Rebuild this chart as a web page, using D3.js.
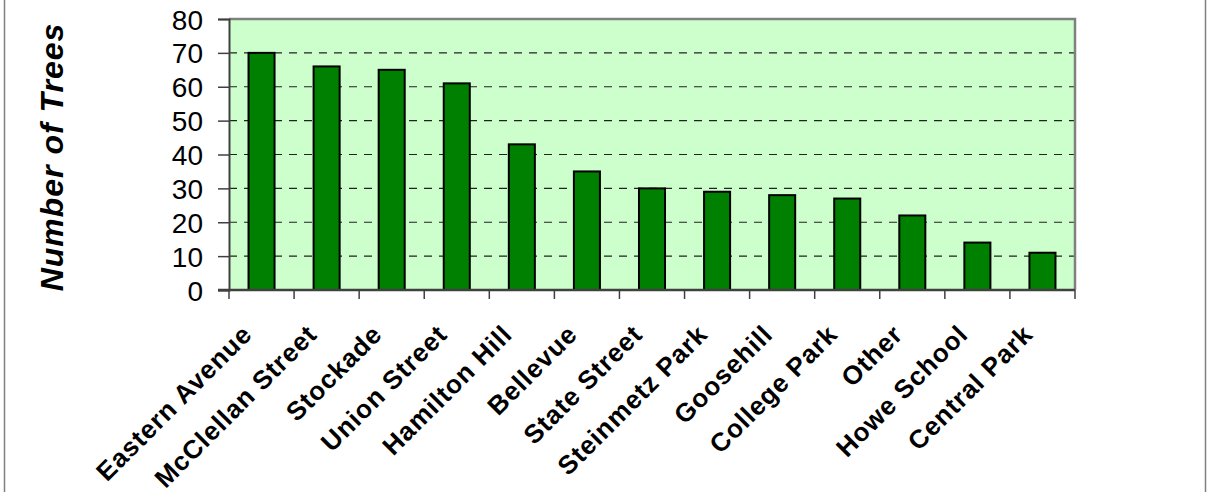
<!DOCTYPE html>
<html>
<head>
<meta charset="utf-8">
<script src="https://cdn.jsdelivr.net/npm/d3@7"></script>
<style>
html,body{margin:0;padding:0;background:#fff;}
svg{display:block;}
</style>
</head>
<body>
<svg id="chart" width="1207" height="492"></svg>
<script>
const categories = ["Eastern Avenue","McClellan Street","Stockade","Union Street","Hamilton Hill","Bellevue","State Street","Steinmetz Park","Goosehill","College Park","Other","Howe School","Central Park"];
const values = [70,66,65,61,43,35,30,29,28,27,22,14,11];
const yTicks = [0,10,20,30,40,50,60,70,80];
const yTitle = "Number of Trees";

const svg = d3.select("#chart");
const W = 1207, H = 492;
const m = {left:229, right:1075, top:19, bottom:290};
const FONT = "Arial, 'Liberation Sans', sans-serif";

// outer frame
svg.append("rect").attr("x",4.5).attr("y",-5).attr("width",1201).attr("height",H+10)
  .attr("fill","none").attr("stroke","#808080").attr("stroke-width",1.5);

const x = d3.scaleBand().domain(categories).range([m.left,m.right]).paddingInner(0).paddingOuter(0);
const y = d3.scaleLinear().domain([0,80]).range([m.bottom,m.top]);

// plot background
svg.append("rect").attr("x",m.left).attr("y",m.top).attr("width",m.right-m.left).attr("height",m.bottom-m.top)
  .attr("fill","#CCFFCC");

// grid lines
svg.append("g").selectAll("line").data(yTicks.filter(d=>d>0 && d<80)).join("line")
  .attr("x1",m.left).attr("x2",m.right).attr("y1",d=>y(d)).attr("y2",d=>y(d))
  .attr("stroke","#222").attr("stroke-width",1.2).attr("stroke-dasharray","8,7");

// top and right border
svg.append("path").attr("d",`M${m.left},${m.top}H${m.right}V${m.bottom}`)
  .attr("fill","none").attr("stroke","#808080").attr("stroke-width",2.5);

// bars
const bw = x.bandwidth()*0.4;
svg.append("g").selectAll("rect").data(values).join("rect")
  .attr("x",(d,i)=>x(categories[i])+x.bandwidth()/2-bw/2)
  .attr("y",d=>y(d))
  .attr("width",bw)
  .attr("height",d=>y(0)-y(d))
  .attr("fill","#008000").attr("stroke","#000").attr("stroke-width",2);

// y axis
const yAxis = d3.axisLeft(y).tickValues(yTicks).tickSize(11).tickPadding(15);
const gy = svg.append("g").attr("transform",`translate(${m.left},0)`).call(yAxis);
gy.select(".domain").attr("stroke","#404040").attr("stroke-width",2);
gy.selectAll(".tick line").attr("stroke","#404040").attr("stroke-width",1.5);
gy.selectAll(".tick text").attr("font-family",FONT)
  .attr("font-size","28px").attr("fill","#000").attr("dy","0.36em");

// x axis: line + boundary ticks
svg.append("line").attr("x1",m.left-11).attr("x2",m.right).attr("y1",m.bottom).attr("y2",m.bottom)
  .attr("stroke","#404040").attr("stroke-width",2.5);
const bounds = categories.map(c=>x(c)).concat([m.right]);
svg.append("g").selectAll("line").data(bounds).join("line")
  .attr("x1",d=>d).attr("x2",d=>d).attr("y1",m.bottom).attr("y2",m.bottom+9)
  .attr("stroke","#404040").attr("stroke-width",1.5);

// category labels
svg.append("g").selectAll("text").data(categories).join("text")
  .attr("transform",d=>`translate(${x(d)+x.bandwidth()/2-8},${m.bottom+46}) rotate(-45)`)
  .attr("text-anchor","end")
  .attr("font-family",FONT)
  .attr("font-weight","bold").attr("font-size","26px").attr("letter-spacing","0.9px").attr("fill","#000")
  .text(d=>d);

// y title
svg.append("text").attr("transform",`translate(63,157) rotate(-90)`)
  .attr("text-anchor","middle")
  .attr("font-family",FONT)
  .attr("font-weight","bold").attr("font-style","italic").attr("font-size","32px").attr("letter-spacing","1px").attr("fill","#000")
  .text(yTitle);
</script>
</body>
</html>
